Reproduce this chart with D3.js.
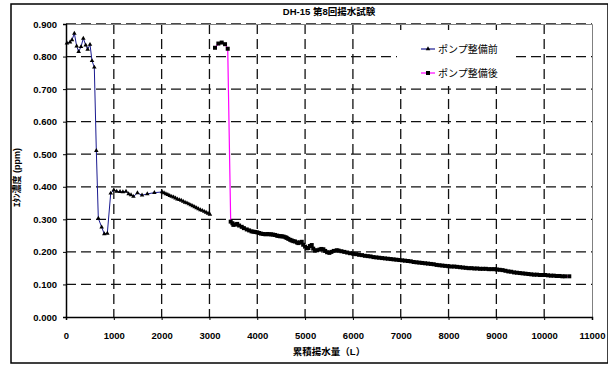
<!DOCTYPE html>
<html>
<head>
<meta charset="utf-8">
<title>DH-15 第8回揚水試験</title>
<style>
  body { margin: 0; padding: 0; background: #fff; }
  svg { display: block; }
  svg text { font-family: "Liberation Sans", Arial, "Noto Sans CJK JP", sans-serif; }
  .tick text { font-size: 9.5px; font-weight: bold; fill: #000; }
</style>
</head>
<body>
<svg id="chart"></svg>
<script src="https://d3js.org/d3.v7.min.js"></script>
<script>
// ポンプ整備前
const beforeX = [20, 84, 125, 175, 223, 265, 314, 362, 412, 453, 502, 544, 592, 634, 676, 746, 801, 864,
  935, 1000, 1060, 1130, 1190, 1255, 1310, 1360, 1410, 1494, 1590, 1700, 1848, 2008,
  2050, 2090, 2130, 2170, 2210, 2250, 2290, 2330, 2370, 2410, 2450, 2490, 2530, 2570,
  2610, 2650, 2690, 2730, 2770, 2810, 2850, 2890, 2930, 2970, 3010];
const beforeY = [0.841, 0.844, 0.851, 0.871, 0.832, 0.815, 0.830, 0.856, 0.835, 0.822, 0.837, 0.787, 0.767, 0.511, 0.303, 0.276, 0.255, 0.257,
  0.380, 0.390, 0.386, 0.385, 0.384, 0.386, 0.378, 0.375, 0.370, 0.381, 0.374, 0.378, 0.382, 0.384,
  0.381, 0.378, 0.376, 0.373, 0.370, 0.368, 0.365, 0.362, 0.360, 0.358, 0.355, 0.352, 0.350, 0.347,
  0.344, 0.341, 0.338, 0.335, 0.332, 0.329, 0.327, 0.324, 0.321, 0.318, 0.315];

// ポンプ整備後
const afterX = [3116, 3186, 3256, 3326, 3382,
  3444, 3480, 3500, 3540, 3580, 3620, 3675, 3720, 3780, 3830, 3880, 3920, 3960, 4000, 4040, 4080,
  4125, 4170, 4210, 4250, 4290, 4330, 4370, 4410, 4440, 4475, 4510, 4550, 4590, 4615, 4650, 4690,
  4720, 4755, 4790, 4830, 4860, 4894, 4930, 4960, 5000, 5035, 5069, 5100, 5139, 5170, 5208, 5250,
  5300, 5340, 5382, 5420, 5460, 5508, 5550, 5600, 5661, 5700, 5760, 5820, 5880, 5940, 6010, 6070,
  6130, 6190, 6250, 6310, 6370, 6430, 6490, 6550, 6610, 6670, 6730, 6790, 6850, 6910, 6970, 7030,
  7090, 7150, 7210, 7270, 7330, 7390, 7450, 7510, 7570, 7630, 7690, 7750, 7810, 7870, 7930, 7996,
  8060, 8120, 8180, 8240, 8300, 8360, 8420, 8480, 8540, 8600, 8660, 8720, 8780, 8840, 8900, 8960,
  9008, 9070, 9130, 9190, 9250, 9310, 9370, 9430, 9490, 9550, 9610, 9670, 9730, 9790, 9850, 9910,
  9970, 10017, 10080, 10140, 10200, 10260, 10320, 10380, 10440, 10525];
const afterY = [0.827, 0.840, 0.843, 0.838, 0.824,
  0.293, 0.288, 0.283, 0.284, 0.286, 0.281, 0.277, 0.273, 0.269, 0.266, 0.263, 0.262, 0.261, 0.260, 0.258, 0.256,
  0.255, 0.254, 0.255, 0.254, 0.254, 0.253, 0.252, 0.250, 0.249, 0.248, 0.248, 0.247, 0.245, 0.243, 0.240, 0.237,
  0.235, 0.233, 0.232, 0.229, 0.227, 0.229, 0.231, 0.222, 0.216, 0.211, 0.212, 0.218, 0.221, 0.210, 0.204, 0.205,
  0.207, 0.209, 0.208, 0.203, 0.199, 0.197, 0.200, 0.203, 0.205, 0.204, 0.202, 0.200, 0.198, 0.196, 0.194, 0.193,
  0.191, 0.190, 0.188, 0.187, 0.186, 0.184, 0.183, 0.182, 0.181, 0.180, 0.179, 0.178, 0.177, 0.176, 0.175, 0.174,
  0.173, 0.172, 0.171, 0.169, 0.168, 0.167, 0.166, 0.165, 0.164, 0.163, 0.162, 0.160, 0.159, 0.158, 0.157, 0.156,
  0.155, 0.155, 0.154, 0.153, 0.152, 0.151, 0.150, 0.150, 0.149, 0.149, 0.148, 0.148, 0.148, 0.147, 0.147, 0.147,
  0.146, 0.145, 0.144, 0.142, 0.140, 0.139, 0.137, 0.136, 0.135, 0.134, 0.133, 0.132, 0.131, 0.130, 0.130, 0.129,
  0.129, 0.129, 0.128, 0.127, 0.127, 0.126, 0.126, 0.125, 0.125, 0.125];

const xTicks = d3.range(0, 11001, 1000);
const yTicks = d3.range(0, 10).map(i => i / 10);

const width = 608, height = 369;
const plot = { left: 66, right: 592, top: 24, bottom: 317 };

const svg = d3.select('#chart').attr('width', width).attr('height', height);

const x = d3.scaleLinear().domain([0, 11000]).range([plot.left, plot.right]);
const y = d3.scaleLinear().domain([0, 0.9]).range([plot.bottom, plot.top]);

// gridlines
svg.append('g').selectAll('line').data(xTicks.slice(1, -1)).join('line')
  .attr('x1', d => x(d)).attr('x2', d => x(d))
  .attr('y1', plot.top).attr('y2', plot.bottom)
  .attr('stroke', '#111').attr('stroke-width', 1.3).attr('stroke-dasharray', '10 5');
svg.append('g').selectAll('line').data(yTicks.slice(1)).join('line')
  .attr('x1', plot.left).attr('x2', plot.right)
  .attr('y1', d => y(d)).attr('y2', d => y(d))
  .attr('stroke', '#111').attr('stroke-width', 1.3).attr('stroke-dasharray', '10 5');

// outer frame
svg.append('rect')
  .attr('x', 11).attr('y', 4).attr('width', 597).attr('height', 359)
  .attr('fill', 'none').attr('stroke', '#000').attr('stroke-width', 1.5);

// plot border (top / right grey)
svg.append('path')
  .attr('d', `M${plot.left},${plot.top + 0.5}H${plot.right + 0.5}V${plot.bottom}`)
  .attr('fill', 'none').attr('stroke', '#808080').attr('stroke-width', 1);

// axes
const xAxis = svg.append('g')
  .attr('transform', `translate(0,${plot.bottom})`)
  .call(d3.axisBottom(x).tickValues(xTicks).tickFormat(d3.format('d')).tickSize(3).tickPadding(10));
const yAxis = svg.append('g')
  .attr('transform', `translate(${plot.left},0)`)
  .call(d3.axisLeft(y).tickValues(yTicks).tickFormat(d3.format('.3f')).tickSize(3).tickPadding(6));
[xAxis, yAxis].forEach(a => {
  a.select('.domain').attr('stroke', '#000').attr('stroke-width', 1.5);
  a.selectAll('.tick line').attr('stroke', '#000');
});
xAxis.selectAll('.tick text').attr('dy', '0.9em');
yAxis.selectAll('.tick text').attr('x', -9);

// series lines
const line = d3.line().x(d => x(d[0])).y(d => y(d[1]));
const before = beforeX.map((v, i) => [v, beforeY[i]]);
const after = afterX.map((v, i) => [v, afterY[i]]);

svg.append('path').datum(before).attr('d', line)
  .attr('fill', 'none').attr('stroke', '#1a1a90').attr('stroke-width', 1);
svg.append('path').datum(after).attr('d', line)
  .attr('fill', 'none').attr('stroke', '#ff00ff').attr('stroke-width', 1.2);

const tri = d3.symbol().type(d3.symbolTriangle).size(9);
svg.append('g').selectAll('path').data(before).join('path')
  .attr('d', tri)
  .attr('transform', d => `translate(${x(d[0])},${y(d[1])})`)
  .attr('fill', '#000');

svg.append('g').selectAll('rect').data(after).join('rect')
  .attr('x', d => x(d[0]) - 2).attr('y', d => y(d[1]) - 2)
  .attr('width', 4).attr('height', 4)
  .attr('fill', '#000');

// legend
const legend = svg.append('g');
legend.append('rect')
  .attr('x', 397).attr('y', 30).attr('width', 116).attr('height', 56)
  .attr('fill', '#fff');
const legendItems = [
  { label: 'ポンプ整備前', color: '#1a1a90', y: 49, mark: 'tri' },
  { label: 'ポンプ整備後', color: '#ff00ff', y: 73, mark: 'sq' }
];
legendItems.forEach(it => {
  legend.append('line')
    .attr('x1', 421).attr('x2', 435).attr('y1', it.y).attr('y2', it.y)
    .attr('stroke', it.color).attr('stroke-width', 1.2);
  if (it.mark === 'tri') {
    legend.append('path').attr('d', tri).attr('transform', `translate(428,${it.y})`).attr('fill', '#000');
  } else {
    legend.append('rect').attr('x', 426).attr('y', it.y - 2).attr('width', 4).attr('height', 4).attr('fill', '#000');
  }
  legend.append('text')
    .attr('x', 438).attr('y', it.y + 3.5)
    .attr('font-size', 10).attr('fill', '#000')
    .text(it.label);
});

// title
svg.append('text')
  .attr('x', (plot.left + plot.right) / 2).attr('y', 15)
  .attr('text-anchor', 'middle').attr('font-size', 9.5).attr('font-weight', 'bold')
  .text('DH-15 第8回揚水試験');

// x label
svg.append('text')
  .attr('x', (plot.left + plot.right) / 2).attr('y', 355)
  .attr('text-anchor', 'middle').attr('font-size', 9.5).attr('font-weight', 'bold')
  .text('累積揚水量（L）');

// y label
svg.append('text')
  .attr('transform', `translate(20,${(plot.top + plot.bottom) / 2 + 7}) rotate(-90)`)
  .attr('text-anchor', 'middle').attr('font-size', 9).attr('font-weight', 'bold')
  .text('ｴﾀﾝ濃度 (ppm)');
</script>
</body>
</html>
